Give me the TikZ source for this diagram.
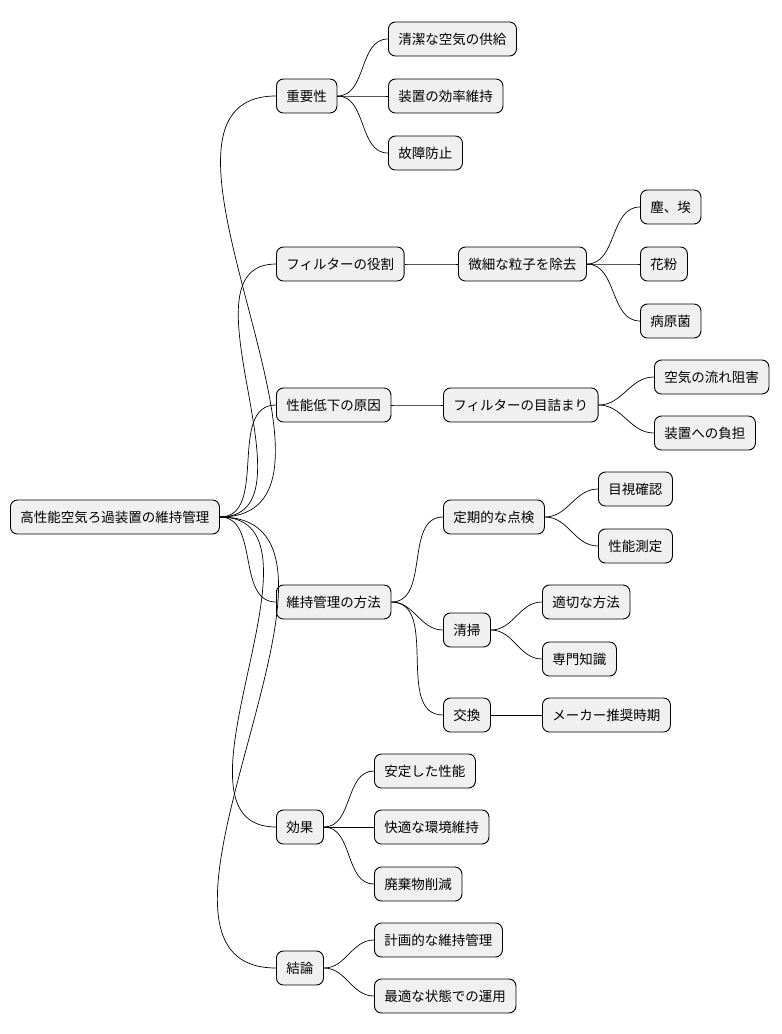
\documentclass[tikz,border=0pt]{standalone}
\usepackage{fontspec}
\setmainfont{Noto Sans CJK JP}
\usetikzlibrary{positioning}

\tikzset{
  topic/.style={draw, fill=black!6, rounded corners=7pt, anchor=west,
    minimum height=34pt, inner xsep=10pt, line width=0.9pt,
    font=\fontsize{13.5}{16}\selectfont},
  branch/.style={line width=0.7pt, out=0, in=180}
}

\begin{document}
\begin{tikzpicture}[x=1pt,y=-1pt]
    \useasboundingbox (0,0) rectangle (782,1034);
    % root
    \node[topic] (root) at (10,517) {高性能空気ろ過装置の維持管理} ;

    % level 1
    \node[topic] (imp) at (276,96) {重要性} ;
    \node[topic] (role) at (276,264) {フィルターの役割} ;
    \node[topic] (cause) at (276,405) {性能低下の原因} ;
    \node[topic] (method) at (276,602) {維持管理の方法} ;
    \node[topic] (effect) at (276,827) {効果} ;
    \node[topic] (concl) at (276,968) {結論} ;

    % level 2
    \node[topic] (imp1) at (388,39) {清潔な空気の供給} ;
    \node[topic] (imp2) at (388,96) {装置の効率維持} ;
    \node[topic] (imp3) at (388,153) {故障防止} ;
    \node[topic] (role1) at (458,264) {微細な粒子を除去} ;
    \node[topic] (cause1) at (443,405) {フィルターの目詰まり} ;
    \node[topic] (meth1) at (443,517) {定期的な点検} ;
    \node[topic] (meth2) at (443,630) {清掃} ;
    \node[topic] (meth3) at (443,715) {交換} ;
    \node[topic] (eff1) at (374,771) {安定した性能} ;
    \node[topic] (eff2) at (374,827) {快適な環境維持} ;
    \node[topic] (eff3) at (374,884) {廃棄物削減} ;
    \node[topic] (con1) at (374,940) {計画的な維持管理} ;
    \node[topic] (con2) at (374,996) {最適な状態での運用} ;

    % level 3
    \node[topic] (dust) at (640,207) {塵、埃} ;
    \node[topic] (pollen) at (640,264) {花粉} ;
    \node[topic] (germ) at (640,321) {病原菌} ;
    \node[topic] (flow) at (654,377) {空気の流れ阻害} ;
    \node[topic] (load) at (654,433) {装置への負担} ;
    \node[topic] (visual) at (598,489) {目視確認} ;
    \node[topic] (measure) at (598,546) {性能測定} ;
    \node[topic] (proper) at (542,602) {適切な方法} ;
    \node[topic] (expert) at (542,659) {専門知識} ;
    \node[topic] (maker) at (542,715) {メーカー推奨時期} ;

    % connectors
    \foreach \a/\b in {root/imp, root/role, root/cause, root/method, root/effect, root/concl,
        imp/imp1, imp/imp2, imp/imp3, role/role1, role1/dust, role1/pollen, role1/germ,
        cause/cause1, cause1/flow, cause1/load, method/meth1, method/meth2, method/meth3,
        meth1/visual, meth1/measure, meth2/proper, meth2/expert, meth3/maker,
        effect/eff1, effect/eff2, effect/eff3, concl/con1, concl/con2}
        \draw[branch] (\a.east) to (\b.west) ;
\end{tikzpicture}
\end{document}
